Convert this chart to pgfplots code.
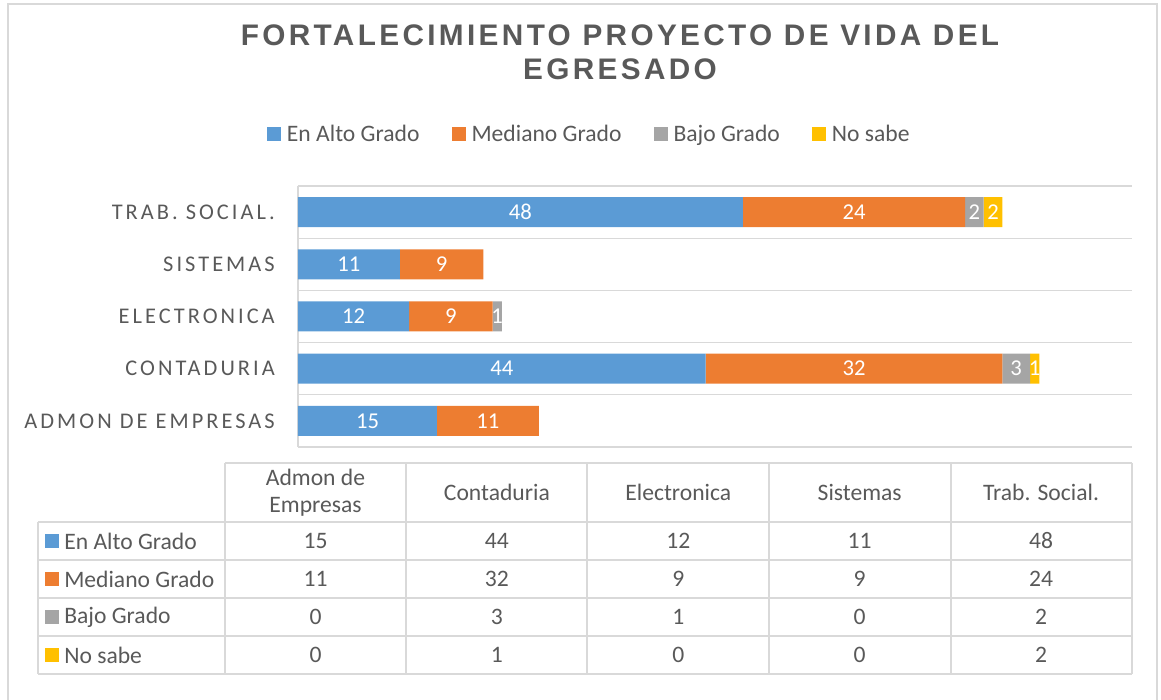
\documentclass[border=0pt]{standalone}
\usepackage{fontspec}
\setmainfont{Carlito}
\newfontfamily\spaced[LetterSpace=13.5]{Carlito}
\newfontfamily\titlefont[LetterSpace=11.3]{Liberation Sans}
\usepackage{pgfplots}
\usepackage{pgfplotstable}
\pgfplotsset{compat=1.18}
\definecolor{cblue}{HTML}{5B9BD5}
\definecolor{corange}{HTML}{ED7D31}
\definecolor{cgray}{HTML}{A5A5A5}
\definecolor{cyellow}{HTML}{FFC000}
\definecolor{textgray}{HTML}{595959}
\definecolor{linegray}{HTML}{D9D9D9}

\pgfplotstableread{
y alto mediano bajo nosabe
0 15 11 0 0
1 44 32 3 1
2 12 9 1 0
3 11 9 0 0
4 48 24 2 2
}\datatable

\begin{document}
\begin{tikzpicture}
\useasboundingbox (0,0) rectangle (870.75pt,525pt);
\begin{scope}[x=0.75pt,y=-0.75pt,shift={(0pt,525pt)}]
  % outer frame
  \draw[linegray, line width=1pt] (8,4) rectangle (1157,720);
  % title
  \node[text=textgray, align=center, font=\titlefont\bfseries\fontsize{22.3}{25.5}\selectfont] at (620,52.5)
    {FORTALECIMIENTO PROYECTO DE VIDA DEL\\EGRESADO};
  % data table grid
  \begin{scope}[linegray, line width=1pt]
    \draw (225,463) -- (1132,463);
    \foreach \yy in {522,560,598,636,674} \draw (38,\yy) -- (1132,\yy);
    \draw (38,522) -- (38,674);
    \foreach \xx in {225,406,587,769,951,1132} \draw (\xx,463) -- (\xx,674);
  \end{scope}
  % header
  \foreach \c/\name in {0/{Admon de\\Empresas},1/Contaduria,2/Electronica,3/Sistemas,4/{Trab. Social.}}{
    \node[text=textgray, align=center, font=\fontsize{17.7}{20.25}\selectfont] at ({315.5+181.4*\c},492.5) {\name};
  }
  % rows
  \foreach \r/\name/\col/\clr in {0/En Alto Grado/alto/cblue,1/Mediano Grado/mediano/corange,2/Bajo Grado/bajo/cgray,3/No sabe/nosabe/cyellow}{
    \fill[\clr] (45,{534+38*\r}) rectangle (59,{548+38*\r});
    \node[text=textgray, anchor=west, inner sep=0pt, font=\fontsize{17.7}{20}\selectfont] at (64,{541+38*\r}) {\name};
    \foreach \c in {0,...,4}{
      \pgfplotstablegetelem{\c}{\col}\of\datatable
      \node[text=textgray, font=\fontsize{17.7}{20}\selectfont] at ({315.5+181.4*\c},{541+38*\r}) {\pgfplotsretval};
    }
  }
\end{scope}

\begin{axis}[
  at={(223.5pt,189.75pt)}, anchor=south west,
  scale only axis, width=625.5pt, height=195.75pt,
  xbar stacked, bar width=22.5pt,
  xmin=0, xmax=90, ymin=-0.5, ymax=4.5,
  ytick={0,...,4},
  yticklabels={ADMON DE EMPRESAS,CONTADURIA,ELECTRONICA,SISTEMAS,TRAB. SOCIAL.},
  xtick=\empty,
  minor ytick={-0.5,0.5,...,4.5},
  yminorgrids, minor grid style={draw=linegray, line width=1pt},
  axis line style={draw=none},
  major tick length=0pt, minor tick length=0pt,
  yticklabel style={anchor=east, inner sep=0pt, xshift=-17.25pt, font=\spaced\fontsize{16.8}{19}\selectfont, text=textgray},
  clip=false,
  point meta=explicit,
  /pgf/number format/assume math mode=true,
  nodes near coords,
  every node near coord/.append style={anchor=center, text=white, font=\fontsize{17}{20}\selectfont},
  legend image code/.code={\fill[#1] (0pt,-5.25pt) rectangle (10.5pt,5.25pt);},
  legend style={at={(axis description cs:-0.0372,1.199)}, anchor=west, draw=none, fill=none, inner sep=0pt, outer sep=0pt,
    legend columns=4, font=\fontsize{17.7}{21}\selectfont, text=textgray,
    nodes={inner sep=0pt},
    /tikz/every odd column/.append style={column sep=4.5pt},
    /tikz/every even column/.append style={column sep=24pt}},
]
\addplot[fill=cblue, draw=none] table[x=alto, y=y, meta=alto] {\datatable};
\addplot[fill=corange, draw=none] table[x=mediano, y=y, meta=mediano] {\datatable};
\addplot[fill=cgray, draw=none] table[x=bajo, y=y, meta=bajo] {\datatable};
\addplot[fill=cyellow, draw=none] table[x=nosabe, y=y, meta=nosabe] {\datatable};
\legend{En Alto Grado, Mediano Grado, Bajo Grado, No sabe}
\draw[linegray, line width=1pt] (axis cs:0,-0.5) -- (axis cs:0,4.5);
\end{axis}
\end{tikzpicture}
\end{document}
